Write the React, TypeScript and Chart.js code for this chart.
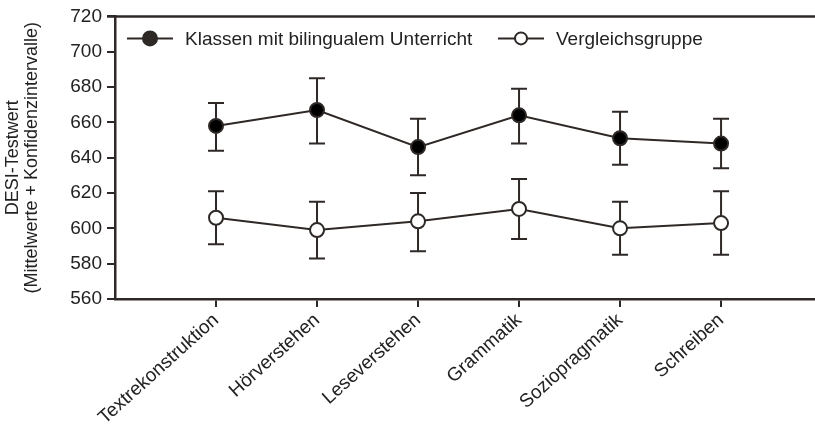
import React, { useEffect, useRef } from "react";
import { Chart, registerables } from "chart.js";

Chart.register(...registerables);

const categories = [
  "Textrekonstruktion",
  "Hörverstehen",
  "Leseverstehen",
  "Grammatik",
  "Soziopragmatik",
  "Schreiben",
];

const bilingualMean = [658, 667, 646, 664, 651, 648];
const bilingualLow = [644, 648, 630, 648, 636, 634];
const bilingualHigh = [671, 685, 662, 679, 666, 662];

const compareMean = [606, 599, 604, 611, 600, 603];
const compareLow = [591, 583, 587, 594, 585, 585];
const compareHigh = [621, 615, 620, 628, 615, 621];

const seriesNames = ["Klassen mit bilingualem Unterricht", "Vergleichsgruppe"];
const yTicks = [560, 580, 600, 620, 640, 660, 680, 700, 720];
const yTitle = ["DESI-Testwert", "(Mittelwerte + Konfidenzintervalle)"];

const INK = "#2e2927";
const FONT = "'Liberation Sans', Arial, sans-serif";

export default function App() {
  const ref = useRef<HTMLCanvasElement | null>(null);

  useEffect(() => {
    document.body.style.margin = "0";
    const canvas = ref.current;
    if (!canvas) return;

    const errorBars = {
      id: "errorBars",
      beforeDatasetsDraw(chart: any) {
        const ctx = chart.ctx;
        const xs = chart.scales.x;
        const ys = chart.scales.y;
        const sets = [
          [bilingualLow, bilingualHigh],
          [compareLow, compareHigh],
        ];
        ctx.save();
        ctx.strokeStyle = INK;
        ctx.lineWidth = 2;
        sets.forEach(([lo, hi]) => {
          lo.forEach((l: number, i: number) => {
            const x = xs.getPixelForValue(i + 1);
            const y1 = ys.getPixelForValue(l);
            const y2 = ys.getPixelForValue(hi[i]);
            ctx.beginPath();
            ctx.moveTo(x, y1);
            ctx.lineTo(x, y2);
            ctx.moveTo(x - 8, y1);
            ctx.lineTo(x + 8, y1);
            ctx.moveTo(x - 8, y2);
            ctx.lineTo(x + 8, y2);
            ctx.stroke();
          });
        });
        ctx.restore();
      },
    };

    const frameLegend = {
      id: "frameLegend",
      afterDraw(chart: any) {
        const ctx = chart.ctx;
        const a = chart.chartArea;
        ctx.save();
        // top frame line
        ctx.strokeStyle = INK;
        ctx.lineWidth = 2.5;
        ctx.beginPath();
        ctx.moveTo(a.left - 8, a.top);
        ctx.lineTo(chart.width, a.top);
        ctx.stroke();
        // y-axis title
        ctx.fillStyle = "#222";
        ctx.font = `18px ${FONT}`;
        ctx.textAlign = "center";
        ctx.textBaseline = "middle";
        const cy = (a.top + a.bottom) / 2;
        [13, 32].forEach((x, i) => {
          ctx.save();
          ctx.translate(x, cy);
          ctx.rotate(-Math.PI / 2);
          ctx.fillText(yTitle[i], 0, 0);
          ctx.restore();
        });
        // legend
        const ly = a.top + 22;
        const items = [
          { x0: a.left + 12, fill: INK },
          { x0: a.left + 383, fill: "#ffffff" },
        ];
        items.forEach((it, i) => {
          ctx.strokeStyle = INK;
          ctx.lineWidth = 2;
          ctx.beginPath();
          ctx.moveTo(it.x0, ly);
          ctx.lineTo(it.x0 + 46, ly);
          ctx.stroke();
          ctx.beginPath();
          ctx.arc(it.x0 + 23, ly, i === 0 ? 7 : 6, 0, Math.PI * 2);
          ctx.fillStyle = it.fill;
          ctx.fill();
          ctx.stroke();
          ctx.fillStyle = "#222";
          ctx.font = `19px ${FONT}`;
          ctx.textAlign = "left";
          ctx.textBaseline = "middle";
          ctx.fillText(seriesNames[i], it.x0 + 58, ly + 1);
        });
        ctx.restore();
      },
    };

    const chart = new Chart(canvas, {
      type: "line",
      data: {
        datasets: [
          {
            label: seriesNames[0],
            data: bilingualMean.map((v, i) => ({ x: i + 1, y: v })),
            borderColor: INK,
            borderWidth: 2,
            pointBackgroundColor: "#000000",
            pointBorderColor: INK,
            pointBorderWidth: 2,
            pointRadius: 7,
            tension: 0,
          },
          {
            label: seriesNames[1],
            data: compareMean.map((v, i) => ({ x: i + 1, y: v })),
            borderColor: INK,
            borderWidth: 2,
            pointBackgroundColor: "#ffffff",
            pointBorderColor: INK,
            pointBorderWidth: 2,
            pointRadius: 7,
            tension: 0,
          },
        ],
      },
      plugins: [errorBars, frameLegend],
      options: {
        responsive: false,
        animation: false,
        layout: { autoPadding: false, padding: { top: 15, right: 0, left: 0, bottom: 0 } },
        plugins: {
          legend: { display: false },
          tooltip: { enabled: false },
        },
        scales: {
          x: {
            type: "linear",
            min: 0,
            max: 6.93,
            afterBuildTicks: (s: any) => {
              s.ticks = categories.map((_, i) => ({ value: i + 1 }));
            },
            afterFit: (s: any) => {
              s.height = 140;
              s.paddingLeft = 0;
              s.paddingRight = 0;
            },
            grid: {
              drawOnChartArea: false,
              drawTicks: true,
              tickLength: 8,
              color: INK,
              lineWidth: 2,
            },
            border: { display: true, color: INK, width: 2.5 },
            ticks: {
              autoSkip: false,
              minRotation: 42,
              maxRotation: 42,
              padding: 2,
              color: "#222",
              font: { family: FONT, size: 19 },
              callback: (v: any) => categories[Math.round(v) - 1] ?? "",
            },
          },
          y: {
            min: 560,
            max: 720,
            afterBuildTicks: (s: any) => {
              s.ticks = yTicks.map((v) => ({ value: v }));
            },
            afterFit: (s: any) => {
              s.width = 115;
            },
            grid: {
              drawOnChartArea: false,
              drawTicks: true,
              tickLength: 8,
              color: INK,
              lineWidth: 2,
            },
            border: { display: true, color: INK, width: 2.5 },
            ticks: {
              padding: 5,
              color: "#222",
              font: { family: FONT, size: 19 },
            },
          },
        },
      },
    });
    return () => chart.destroy();
  }, []);

  return (
    <div style={{ width: 815, height: 439 }}>
      <canvas ref={ref} width={815} height={439} style={{ display: "block" }} />
    </div>
  );
}
